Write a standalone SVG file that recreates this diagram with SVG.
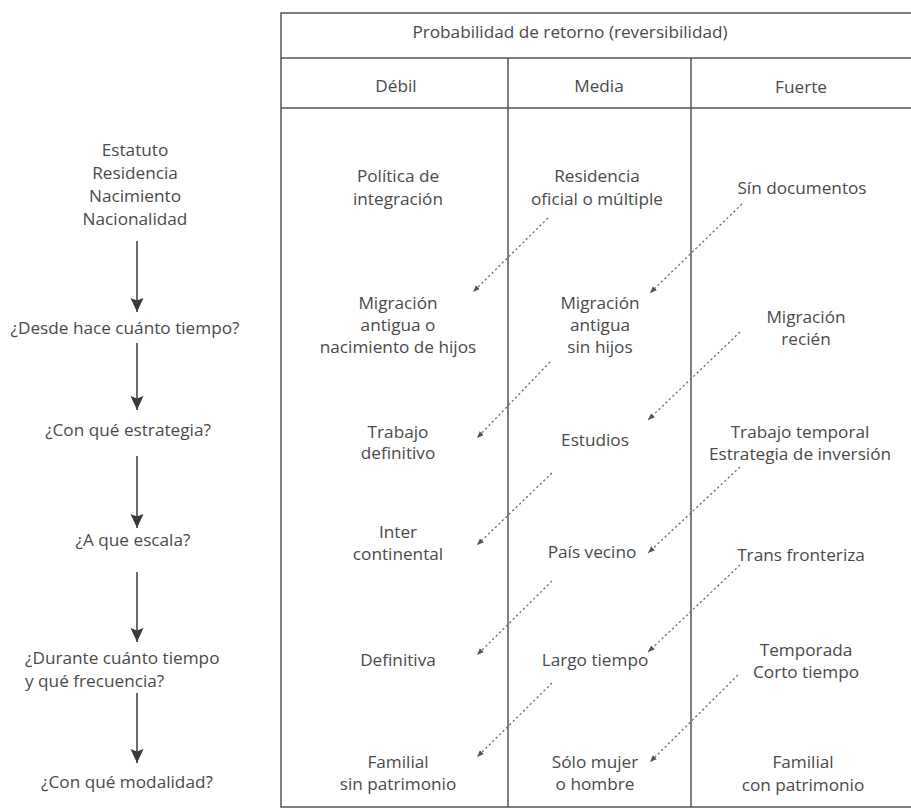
<svg xmlns="http://www.w3.org/2000/svg" width="911" height="812" viewBox="0 0 911 812">
<defs>
<style>
text{font-family:"Open Sans","Noto Sans","Liberation Sans",sans-serif;font-size:17.2px;fill:#4a4a4a}
.c{text-anchor:middle}
.tb{fill:none;stroke:#555;stroke-width:1.5}
.flow{stroke:#3a3a3a;stroke-width:1.5;fill:none}
.dot{stroke:#6e6e6e;stroke-width:1.3;stroke-dasharray:2.2 2.6;fill:none}
</style>
<marker id="ah" markerUnits="userSpaceOnUse" viewBox="0 0 14 14" refX="14" refY="7" markerWidth="14" markerHeight="14" orient="auto">
<path d="M0,0.5 L14,7 L0,13.5 L2.5,7 z" fill="#3a3a3a"/>
</marker>
<marker id="dh" markerUnits="userSpaceOnUse" viewBox="0 0 8 8" refX="8" refY="4" markerWidth="7" markerHeight="7" orient="auto">
<path d="M0,0.8 L8,4 L0,7.2 z" fill="#555"/>
</marker>
</defs>
<rect width="911" height="812" fill="#fff"/>

<g id="table">
<rect class="tb" x="281" y="13" width="640" height="794"/>
<line class="tb" x1="281" y1="58" x2="911" y2="58"/>
<line class="tb" x1="281" y1="108" x2="911" y2="108"/>
<line class="tb" x1="508" y1="58" x2="508" y2="807"/>
<line class="tb" x1="691" y1="58" x2="691" y2="807"/>
<text class="c" x="570" y="38">Probabilidad de retorno (reversibilidad)</text>
<text class="c" x="396" y="92">Débil</text>
<text class="c" x="599" y="92">Media</text>
<text class="c" x="801" y="93">Fuerte</text>
</g>

<g id="left-labels">
<text class="c" x="135" y="156">Estatuto</text>
<text class="c" x="135" y="179">Residencia</text>
<text class="c" x="135" y="202">Nacimiento</text>
<text class="c" x="135" y="225">Nacionalidad</text>
<text class="c" x="125" y="334">¿Desde hace cuánto tiempo?</text>
<text class="c" x="128" y="436">¿Con qué estrategia?</text>
<text class="c" x="133" y="546">¿A que escala?</text>
<text x="25" y="664">¿Durante cuánto tiempo</text>
<text x="25" y="687">y qué frecuencia?</text>
<text class="c" x="127" y="788">¿Con qué modalidad?</text>
</g>

<g id="col-debil">
<text class="c" x="398" y="182">Política de</text>
<text class="c" x="398" y="205">integración</text>
<text class="c" x="398" y="309">Migración</text>
<text class="c" x="398" y="331">antigua o</text>
<text class="c" x="398" y="353">nacimiento de hijos</text>
<text class="c" x="398" y="438">Trabajo</text>
<text class="c" x="398" y="459">definitivo</text>
<text class="c" x="398" y="538">Inter</text>
<text class="c" x="398" y="560">continental</text>
<text class="c" x="398" y="666">Definitiva</text>
<text class="c" x="398" y="768">Familial</text>
<text class="c" x="398" y="790">sin patrimonio</text>
</g>

<g id="col-media">
<text class="c" x="597" y="182">Residencia</text>
<text class="c" x="597" y="205">oficial o múltiple</text>
<text class="c" x="600" y="309">Migración</text>
<text class="c" x="600" y="331">antigua</text>
<text class="c" x="600" y="353">sin hijos</text>
<text class="c" x="595" y="446">Estudios</text>
<text class="c" x="592" y="558">País vecino</text>
<text class="c" x="595" y="666">Largo tiempo</text>
<text class="c" x="595" y="768">Sólo mujer</text>
<text class="c" x="595" y="790">o hombre</text>
</g>

<g id="col-fuerte">
<text class="c" x="802" y="194">Sín documentos</text>
<text class="c" x="806" y="323">Migración</text>
<text class="c" x="806" y="345">recién</text>
<text class="c" x="800" y="438">Trabajo temporal</text>
<text class="c" x="800" y="460">Estrategia de inversión</text>
<text class="c" x="801" y="561">Trans fronteriza</text>
<text class="c" x="806" y="656">Temporada</text>
<text class="c" x="806" y="678">Corto tiempo</text>
<text class="c" x="803" y="768">Familial</text>
<text class="c" x="803" y="791">con patrimonio</text>
</g>

<g id="connectors">
<line class="flow" x1="137" y1="241" x2="137" y2="312" marker-end="url(#ah)"/>
<line class="flow" x1="137" y1="343" x2="137" y2="410" marker-end="url(#ah)"/>
<line class="flow" x1="137" y1="456" x2="137" y2="528" marker-end="url(#ah)"/>
<line class="flow" x1="137" y1="572" x2="137" y2="642" marker-end="url(#ah)"/>
<line class="flow" x1="137" y1="693" x2="137" y2="763" marker-end="url(#ah)"/>

<line class="dot" x1="548" y1="218" x2="473" y2="292" marker-end="url(#dh)"/>
<line class="dot" x1="742" y1="204" x2="650" y2="293" marker-end="url(#dh)"/>
<line class="dot" x1="550" y1="362" x2="477" y2="438" marker-end="url(#dh)"/>
<line class="dot" x1="740" y1="332" x2="648" y2="420" marker-end="url(#dh)"/>
<line class="dot" x1="552" y1="473" x2="477" y2="545" marker-end="url(#dh)"/>
<line class="dot" x1="740" y1="467" x2="648" y2="553" marker-end="url(#dh)"/>
<line class="dot" x1="552" y1="581" x2="477" y2="655" marker-end="url(#dh)"/>
<line class="dot" x1="740" y1="565" x2="648" y2="652" marker-end="url(#dh)"/>
<line class="dot" x1="552" y1="683" x2="477" y2="757" marker-end="url(#dh)"/>
<line class="dot" x1="738" y1="675" x2="650" y2="762" marker-end="url(#dh)"/>
</g>
</svg>
